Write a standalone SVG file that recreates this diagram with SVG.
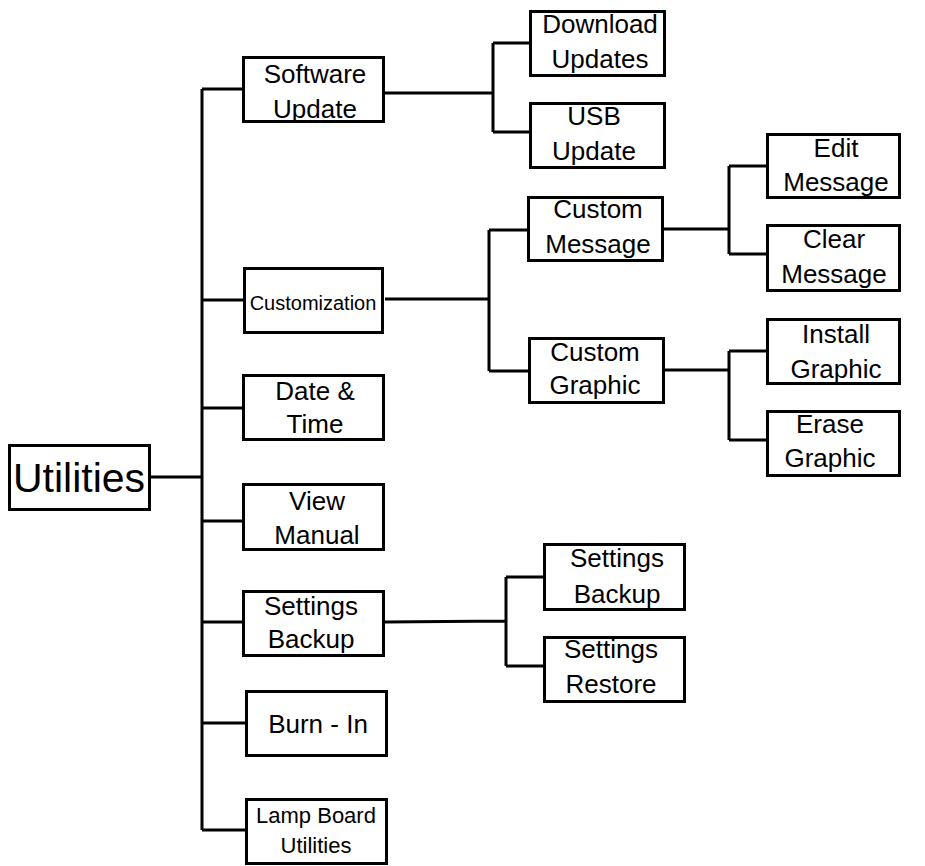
<svg xmlns="http://www.w3.org/2000/svg" width="925" height="866" viewBox="0 0 925 866">
<style>
.box{fill:#fff;stroke:#000;stroke-width:3}
.t{font-family:"Liberation Sans",Arial,sans-serif;font-size:26px;fill:#000;text-anchor:middle}
.s{font-size:20px}
.m{font-size:22px}
.big{font-size:41px}
.c{fill:none;stroke:#000;stroke-width:3}
</style>
<rect width="925" height="866" fill="#fff"/>
<g id="connectors">
<path class="c" d="M202 89V830M202 89H242M202 300H243M151 477H202M202 408H242M202 521H242M202 622H242M202 723H245M202 830H245"/>
<path class="c" d="M385 93H493M493 43V132M493 43H529M493 132H529"/>
<path class="c" d="M385 299H489M489 230V371M489 230H527M489 371H528"/>
<path class="c" d="M664 229H729M729 166V254M729 166H766M729 254H766"/>
<path class="c" d="M665 370H729M729 351V440M729 351H766M729 440H766"/>
<path class="c" d="M385 622L506 621M506 577V666M506 577H543M506 666H543"/>
</g>
<g id="utilities"><rect class="box" x="9.5" y="445.5" width="140" height="64"/><text class="t big" x="79" y="492">Utilities</text></g>
<g id="software-update"><rect class="box" x="243.5" y="57.5" width="140" height="64"/><text class="t" x="315" y="83">Software</text><text class="t" x="315" y="118">Update</text></g>
<g id="customization"><rect class="box" x="244.5" y="268.5" width="138" height="64"/><text class="t s" x="313" y="310">Customization</text></g>
<g id="date-time"><rect class="box" x="243.5" y="375.5" width="140" height="64"/><text class="t" x="315" y="400">Date &amp;</text><text class="t" x="315" y="433">Time</text></g>
<g id="view-manual"><rect class="box" x="243.5" y="484.5" width="140" height="65"/><text class="t" x="317" y="510">View</text><text class="t" x="317" y="544">Manual</text></g>
<g id="settings-backup-1"><rect class="box" x="243.5" y="591.5" width="140" height="64"/><text class="t" x="311" y="615">Settings</text><text class="t" x="311" y="648">Backup</text></g>
<g id="burn-in"><rect class="box" x="246.5" y="691.5" width="140" height="64"/><text class="t" x="318" y="733">Burn - In</text></g>
<g id="lamp-board"><rect class="box" x="246.5" y="799.5" width="140" height="64"/><text class="t m" x="316" y="823">Lamp Board</text><text class="t m" x="316" y="853">Utilities</text></g>
<g id="download-updates"><rect class="box" x="530.5" y="11.5" width="134" height="64"/><text class="t" x="600" y="33">Download</text><text class="t" x="600" y="68">Updates</text></g>
<g id="usb-update"><rect class="box" x="530.5" y="103.5" width="134" height="64"/><text class="t" x="594" y="125">USB</text><text class="t" x="594" y="160">Update</text></g>
<g id="custom-message"><rect class="box" x="528.5" y="197.5" width="134" height="63"/><text class="t" x="598" y="218">Custom</text><text class="t" x="598" y="253">Message</text></g>
<g id="custom-graphic"><rect class="box" x="529.5" y="338.5" width="134" height="64"/><text class="t" x="595" y="361">Custom</text><text class="t" x="595" y="394">Graphic</text></g>
<g id="edit-message"><rect class="box" x="767.5" y="134.5" width="132" height="63"/><text class="t" x="836" y="157">Edit</text><text class="t" x="836" y="191">Message</text></g>
<g id="clear-message"><rect class="box" x="767.5" y="225.5" width="132" height="65"/><text class="t" x="834" y="248">Clear</text><text class="t" x="834" y="283">Message</text></g>
<g id="install-graphic"><rect class="box" x="767.5" y="319.5" width="132" height="64"/><text class="t" x="836" y="343">Install</text><text class="t" x="836" y="378">Graphic</text></g>
<g id="erase-graphic"><rect class="box" x="767.5" y="411.5" width="132" height="64"/><text class="t" x="830" y="433">Erase</text><text class="t" x="830" y="467">Graphic</text></g>
<g id="settings-backup-2"><rect class="box" x="544.5" y="544.5" width="140" height="65"/><text class="t" x="617" y="567">Settings</text><text class="t" x="617" y="603">Backup</text></g>
<g id="settings-restore"><rect class="box" x="544.5" y="637.5" width="140" height="64"/><text class="t" x="611" y="658">Settings</text><text class="t" x="611" y="693">Restore</text></g>
</svg>
